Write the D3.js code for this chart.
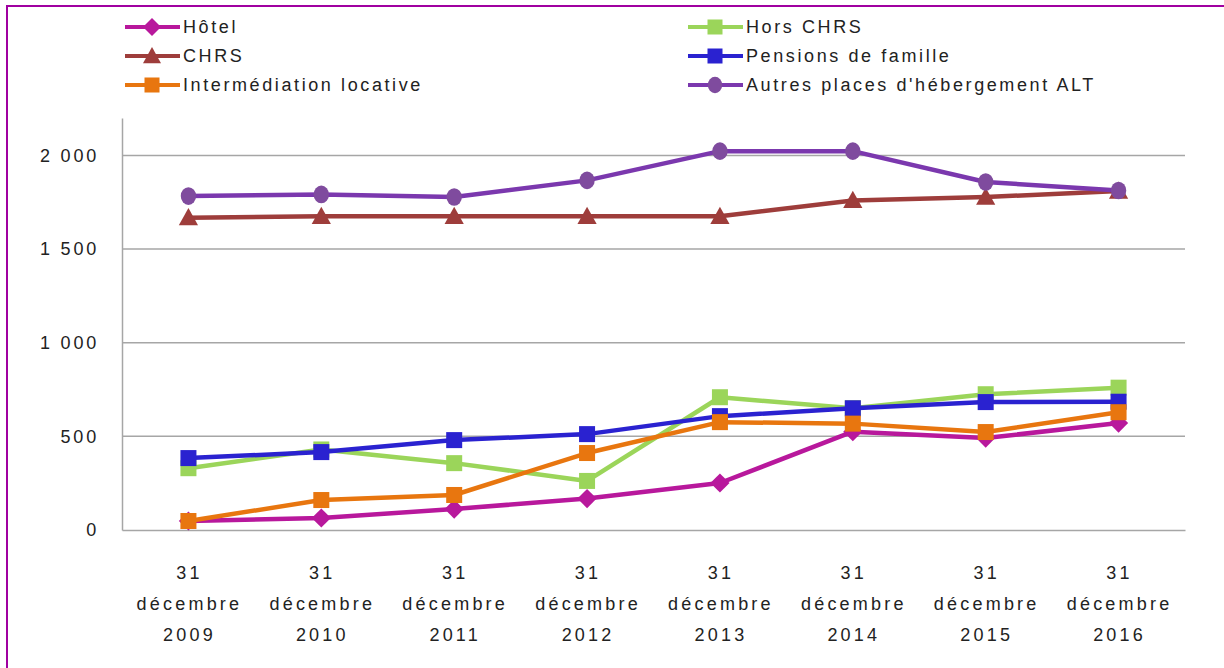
<!DOCTYPE html>
<html>
<head>
<meta charset="utf-8">
<script src="https://cdn.jsdelivr.net/npm/d3@7"></script>
<style>
  body { margin: 0; background: #fff; }
  svg { display: block; font-family: "Liberation Sans", Arial, sans-serif; }
</style>
</head>
<body>
<svg id="vis-svg" width="1224" height="668"></svg>
<script>
// categories and series
const years = ["2009", "2010", "2011", "2012", "2013", "2014", "2015", "2016"];
const hotel = [48, 64, 112, 168, 251, 525, 491, 571];
const horsChrs = [330, 430, 357, 262, 709, 650, 725, 760];
const chrs = [1668, 1675, 1675, 1675, 1675, 1760, 1778, 1810];
const pensions = [384, 416, 480, 512, 608, 650, 683, 685];
const intermed = [48, 160, 187, 411, 576, 568, 523, 629];
const autresAlt = [1783, 1792, 1778, 1867, 2023, 2023, 1858, 1813];
const yTicks = [0, 500, 1000, 1500, 2000];

// legend order (row by row) is also the drawing order
const series = [
    { name: "Hôtel", values: hotel, color: "#b8189c", marker: "diamond" },
    { name: "Hors CHRS", values: horsChrs, color: "#9bd55a", marker: "square" },
    { name: "CHRS", values: chrs, color: "#9e3d3b", marker: "triangle" },
    { name: "Pensions de famille", values: pensions, color: "#2a22d0", marker: "square" },
    { name: "Intermédiation locative", values: intermed, color: "#e8760f", marker: "square" },
    { name: "Autres places d'hébergement ALT", values: autresAlt, color: "#7b38ae", marker: "circle", mfill: "#7f4b9e" }
];

const margin = { top: 118, right: 39, bottom: 138, left: 122 },
    width = 1224 - margin.left - margin.right,
    height = 668 - margin.top - margin.bottom;

const svg = d3.select("#vis-svg");

// purple frame
svg.append("rect")
    .attr("x", 7).attr("y", 6)
    .attr("width", 1240).attr("height", 700)
    .attr("fill", "none")
    .attr("stroke", "#a000a0")
    .attr("stroke-width", 2);

const g = svg.append("g")
    .attr("transform", "translate(" + margin.left + "," + margin.top + ")");

const x = d3.scaleBand().domain(years).range([0, width]);
const y = d3.scaleLinear().domain([0, 2200]).range([height, 0]);

const fr = d3.formatLocale({ decimal: ",", thousands: " ", grouping: [3], currency: ["", " €"] });

// gridlines
g.selectAll(".grid")
    .data(yTicks.filter(d => d > 0))
    .enter().append("line")
    .attr("x1", 0).attr("x2", width)
    .attr("y1", d => y(d)).attr("y2", d => y(d))
    .attr("stroke", "#a6a6a6")
    .attr("stroke-width", 1.5);

// y axis
const yAxis = g.append("g")
    .call(d3.axisLeft(y).tickValues(yTicks).tickSize(0).tickPadding(23).tickFormat(fr.format(",")));
yAxis.select(".domain").attr("stroke", "#a6a6a6").attr("stroke-width", 1.5);
yAxis.selectAll("text")
    .style("font-size", "18px")
    .attr("fill", "#222")
    .attr("letter-spacing", "2.8px");

// x axis
const xAxis = g.append("g")
    .attr("transform", "translate(0," + height + ")")
    .call(d3.axisBottom(x).tickSize(0).tickFormat(""));
xAxis.select(".domain").attr("stroke", "#a6a6a6").attr("stroke-width", 1.5);
xAxis.selectAll(".tick").each(function (d) {
    const t = d3.select(this).append("text")
        .attr("fill", "#222")
        .attr("text-anchor", "middle")
        .attr("letter-spacing", "3.2px")
        .style("font-size", "18px");
    ["31", "décembre", d].forEach((s, i) => {
        t.append("tspan").attr("x", 1).attr("y", 49 + i * 31).text(s);
    });
});

function drawMarker(sel, type, color, size) {
    if (type === "circle") {
        sel.append("ellipse").attr("rx", size * 0.48).attr("ry", size * 0.55).attr("fill", color);
    } else if (type === "square") {
        sel.append("rect").attr("x", -size / 2).attr("y", -size / 2)
            .attr("width", size).attr("height", size).attr("fill", color);
    } else if (type === "diamond") {
        const s = size * 0.6;
        sel.append("path").attr("d", "M0," + (-s) + "L" + s + ",0L0," + s + "L" + (-s) + ",0Z").attr("fill", color);
    } else if (type === "triangle") {
        const s = size * 0.6;
        sel.append("path").attr("d", "M0," + (-s) + "L" + s + "," + (s * 0.8) + "L" + (-s) + "," + (s * 0.8) + "Z").attr("fill", color);
    }
}

const line = d3.line()
    .x((d, i) => x(years[i]) + x.bandwidth() / 2)
    .y(d => y(d));

series.forEach(s => {
    g.append("path")
        .datum(s.values)
        .attr("fill", "none")
        .attr("stroke", s.color)
        .attr("stroke-width", 4.5)
        .attr("stroke-linejoin", "round")
        .attr("d", line);

    g.selectAll(null)
        .data(s.values)
        .enter().append("g")
        .attr("transform", (d, i) => "translate(" + (x(years[i]) + x.bandwidth() / 2) + "," + y(d) + ")")
        .each(function () { drawMarker(d3.select(this), s.marker, s.mfill || s.color, 16); });
});

// legend, two columns filled row by row
const legend = svg.append("g");
series.forEach((s, i) => {
    const col = i % 2, row = Math.floor(i / 2);
    const lx = col === 0 ? 125 : 688, ly = 27 + row * 29;
    const item = legend.append("g").attr("transform", "translate(" + lx + "," + ly + ")");
    item.append("line")
        .attr("x1", 0).attr("x2", 55)
        .attr("stroke", s.color).attr("stroke-width", 4);
    drawMarker(item.append("g").attr("transform", "translate(27,0)"), s.marker, s.mfill || s.color, 15);
    item.append("text")
        .attr("x", 58).attr("dy", "0.35em")
        .attr("fill", "#222")
        .style("font-size", "18px")
        .attr("letter-spacing", "2.6px")
        .text(s.name);
});
</script>
</body>
</html>
